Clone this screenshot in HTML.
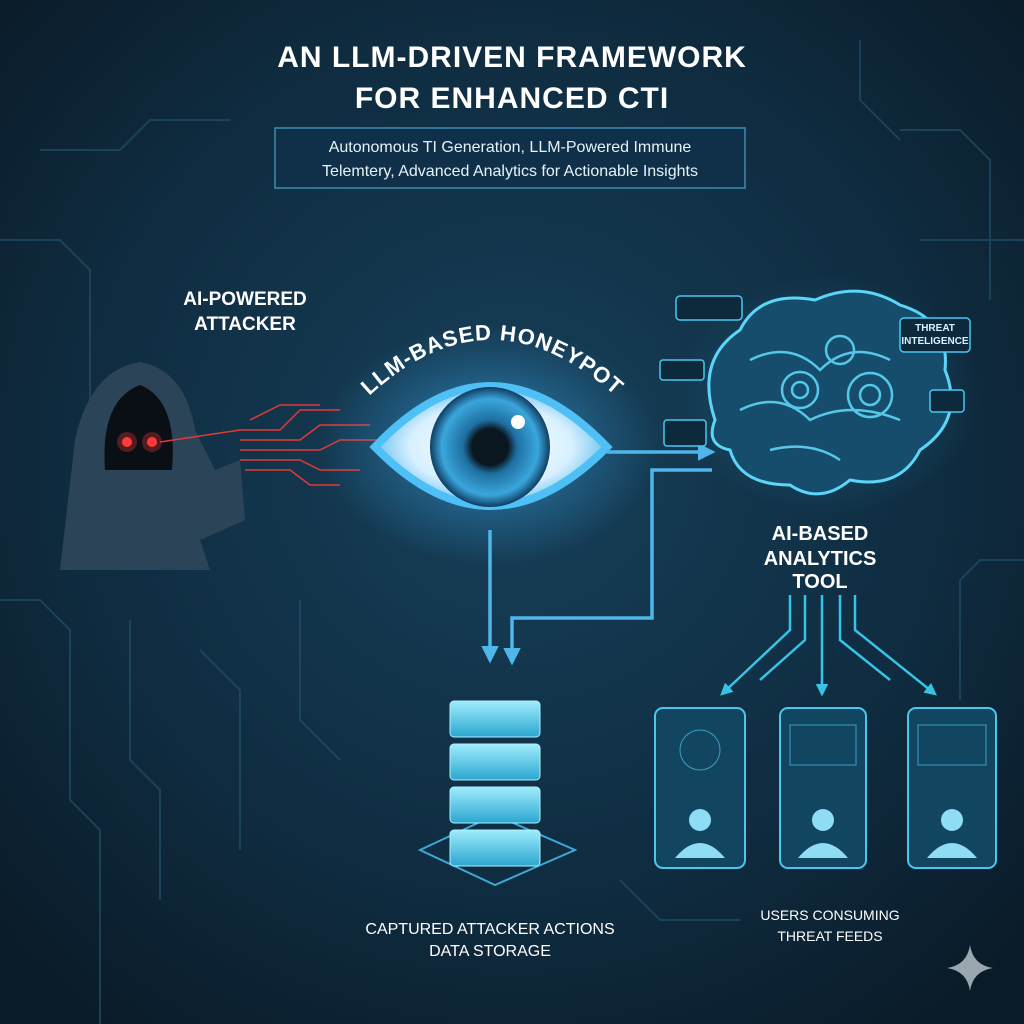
<!DOCTYPE html>
<html><head><meta charset="utf-8"><style>
html,body{margin:0;padding:0;width:1024px;height:1024px;overflow:hidden;background:#0c2030}
svg{display:block}
text{font-family:"Liberation Sans",sans-serif}
</style></head><body>
<svg width="1024" height="1024" viewBox="0 0 1024 1024" xmlns="http://www.w3.org/2000/svg">
<defs>
<radialGradient id="bg" cx="50%" cy="45%" r="70%"><stop offset="0" stop-color="#17405a"/><stop offset="0.6" stop-color="#0f2c40"/><stop offset="1" stop-color="#0a1a27"/></radialGradient>
<radialGradient id="iris" cx="50%" cy="50%" r="50%"><stop offset="0" stop-color="#0a1620"/><stop offset="0.3" stop-color="#0a1620"/><stop offset="0.45" stop-color="#1e6fa0"/><stop offset="0.8" stop-color="#3aa6dc"/><stop offset="1" stop-color="#0f3d62"/></radialGradient>
<radialGradient id="sclera" cx="50%" cy="50%" r="50%"><stop offset="0" stop-color="#ffffff"/><stop offset="0.7" stop-color="#d8f0ff"/><stop offset="1" stop-color="#6ec4f0"/></radialGradient>
<radialGradient id="glow" cx="50%" cy="50%" r="50%"><stop offset="0" stop-color="#3fb6ff" stop-opacity="0.55"/><stop offset="1" stop-color="#3fb6ff" stop-opacity="0"/></radialGradient>
<radialGradient id="bglow" cx="50%" cy="50%" r="50%"><stop offset="0" stop-color="#2aa8d8" stop-opacity="0.35"/><stop offset="1" stop-color="#2aa8d8" stop-opacity="0"/></radialGradient>
<linearGradient id="db" x1="0" y1="0" x2="0" y2="1"><stop offset="0" stop-color="#a0ecfc"/><stop offset="1" stop-color="#2aa6d0"/></linearGradient>
<marker id="ar" viewBox="0 0 10 10" refX="8" refY="5" markerWidth="5" markerHeight="5" orient="auto"><path d="M0,0L10,5L0,10z" fill="#4fb6ea"/></marker>
<marker id="ar2" viewBox="0 0 10 10" refX="8" refY="5" markerWidth="5" markerHeight="5" orient="auto"><path d="M0,0L10,5L0,10z" fill="#36c3e6"/></marker>
</defs>
<rect width="1024" height="1024" fill="url(#bg)"/>
<g stroke="#1f4a62" stroke-width="2" fill="none" opacity="0.8">
<path d="M0,240 H60 L90,270 V420"/><path d="M0,600 H40 L70,630 V800 L100,830 V1024"/><path d="M130,620 V760 L160,790 V900"/>
<path d="M40,150 H120 L150,120 H230"/><path d="M900,130 H960 L990,160 V300"/><path d="M860,40 V100 L900,140"/>
<path d="M1024,560 H980 L960,580 V700"/><path d="M200,650 L240,690 V850"/><path d="M300,600 V720 L340,760"/>
<path d="M620,880 L660,920 H740"/><path d="M920,240 H1024"/>
</g>
<text x="512" y="67" text-anchor="middle" fill="#fff" font-size="30" font-weight="bold" letter-spacing="1">AN LLM-DRIVEN FRAMEWORK</text>
<text x="512" y="108" text-anchor="middle" fill="#fff" font-size="30" font-weight="bold" letter-spacing="1">FOR ENHANCED CTI</text>
<rect x="275" y="128" width="470" height="60" fill="#10304a" stroke="#3e8bb0" stroke-width="1.5"/>
<text x="510" y="152" text-anchor="middle" fill="#e6f2f8" font-size="16">Autonomous TI Generation, LLM-Powered Immune</text>
<text x="510" y="176" text-anchor="middle" fill="#e6f2f8" font-size="16">Telemtery, Advanced Analytics for Actionable Insights</text>
<text x="245" y="305" text-anchor="middle" fill="#fff" font-size="19" font-weight="bold">AI-POWERED</text>
<text x="245" y="330" text-anchor="middle" fill="#fff" font-size="19" font-weight="bold">ATTACKER</text>
<path d="M60,570 L75,440 Q90,370 140,362 Q185,370 195,430 L215,470 L240,460 L245,520 L200,540 L210,570 Z" fill="#2c4458"/>
<path d="M105,470 Q100,400 140,385 Q178,400 172,470 Z" fill="#0a0f16"/>
<circle cx="127" cy="442" r="5" fill="#ff3a3a"/><circle cx="152" cy="442" r="5" fill="#ff3a3a"/>
<circle cx="127" cy="442" r="10" fill="#ff3a3a" opacity="0.3"/><circle cx="152" cy="442" r="10" fill="#ff3a3a" opacity="0.3"/>
<g stroke="#e03a3a" stroke-width="1.5" fill="none">
<path d="M160,442 L240,430 H280 L300,410 H340"/><path d="M240,440 H300 L320,425 H370"/><path d="M240,450 H320 L340,440 H380"/>
<path d="M240,460 H300 L320,470 H360"/><path d="M245,470 H290 L310,485 H340"/><path d="M250,420 L280,405 H320"/>
</g>
<ellipse cx="490" cy="445" rx="170" ry="120" fill="url(#glow)"/>
<path d="M375,447 Q490,325 607,447 Q490,565 375,447 Z" fill="url(#sclera)" stroke="#4fc0f5" stroke-width="8"/>
<circle cx="490" cy="447" r="60" fill="url(#iris)"/>
<circle cx="518" cy="422" r="7" fill="#fff"/>
<path id="arc" d="M365,400 Q490,280 620,400" fill="none"/>
<text fill="#fff" font-size="22" font-weight="bold" letter-spacing="1"><textPath href="#arc" startOffset="50%" text-anchor="middle">LLM-BASED HONEYPOT</textPath></text>
<g stroke="#4fb6ea" stroke-width="3.5" fill="none">
<path d="M607,452 H712" marker-end="url(#ar)"/>
<path d="M490,530 V660" marker-end="url(#ar)"/>
<path d="M712,470 H652 V618 H512 V662" marker-end="url(#ar)"/>
</g>
<ellipse cx="830" cy="395" rx="150" ry="120" fill="url(#bglow)"/>
<path d="M715,420 Q695,360 740,330 Q760,290 815,300 Q860,280 900,305 Q950,320 945,370 Q965,420 920,450 Q900,490 850,480 Q820,505 790,485 Q740,485 730,450 Q705,445 715,420 Z" fill="#164d6c" stroke="#5cd6f8" stroke-width="3"/>
<g stroke="#5cd6f8" stroke-width="2.5" fill="none" opacity="0.9">
<path d="M750,360 Q790,340 820,370 Q850,340 890,360"/><path d="M740,410 Q780,390 810,420 Q850,400 900,420"/><path d="M770,450 Q810,440 840,460"/>
<circle cx="800" cy="390" r="18"/><circle cx="870" cy="395" r="22"/><circle cx="840" cy="350" r="14"/>
<circle cx="870" cy="395" r="10"/><circle cx="800" cy="390" r="8"/>
</g>
<g fill="#0d2a3d" stroke="#46c8f2" stroke-width="1.5">
<rect x="676" y="296" width="66" height="24" rx="4"/><rect x="660" y="360" width="44" height="20" rx="3"/>
<rect x="664" y="420" width="42" height="26" rx="3"/><rect x="900" y="318" width="70" height="34" rx="4"/>
<rect x="930" y="390" width="34" height="22" rx="3"/>
</g>
<text x="935" y="331" text-anchor="middle" fill="#d7f2ff" font-size="10" font-weight="bold">THREAT</text>
<text x="935" y="344" text-anchor="middle" fill="#d7f2ff" font-size="10" font-weight="bold">INTELIGENCE</text>
<text x="820" y="540" text-anchor="middle" fill="#fff" font-size="20" font-weight="bold">AI-BASED</text>
<text x="820" y="565" text-anchor="middle" fill="#fff" font-size="20" font-weight="bold">ANALYTICS</text>
<text x="820" y="588" text-anchor="middle" fill="#fff" font-size="20" font-weight="bold">TOOL</text>
<g stroke="#36c3e6" stroke-width="2.5" fill="none">
<path d="M790,595 V630 L722,694" marker-end="url(#ar2)"/><path d="M805,595 V640 L760,680"/>
<path d="M822,595 V694" marker-end="url(#ar2)"/>
<path d="M840,595 V640 L890,680"/><path d="M855,595 V630 L935,694" marker-end="url(#ar2)"/>
</g>
<g fill="#124560" stroke="#4cc6ee" stroke-width="2">
<rect x="655" y="708" width="90" height="160" rx="8"/><rect x="780" y="708" width="86" height="160" rx="8"/><rect x="908" y="708" width="88" height="160" rx="8"/>
</g>
<g fill="#8fdcf5">
<circle cx="700" cy="820" r="11"/><path d="M675,858 Q700,828 725,858 Z"/>
<circle cx="823" cy="820" r="11"/><path d="M798,858 Q823,828 848,858 Z"/>
<circle cx="952" cy="820" r="11"/><path d="M927,858 Q952,828 977,858 Z"/>
</g>
<g fill="none" stroke="#4cc6ee" stroke-width="1" opacity="0.7">
<circle cx="700" cy="750" r="20"/><rect x="790" y="725" width="66" height="40"/><rect x="918" y="725" width="68" height="40"/>
</g>
<path d="M420,850 L495,815 L575,850 L495,885 Z" fill="none" stroke="#3fa8d6" stroke-width="2"/>
<g stroke="#aef0ff" stroke-width="1">
<rect x="450" y="830" width="90" height="36" rx="4" fill="url(#db)"/>
<rect x="450" y="787" width="90" height="36" rx="4" fill="url(#db)"/>
<rect x="450" y="744" width="90" height="36" rx="4" fill="url(#db)"/>
<rect x="450" y="701" width="90" height="36" rx="4" fill="url(#db)"/>
</g>
<text x="490" y="934" text-anchor="middle" fill="#fff" font-size="16">CAPTURED ATTACKER ACTIONS</text>
<text x="490" y="956" text-anchor="middle" fill="#fff" font-size="16">DATA STORAGE</text>
<text x="830" y="920" text-anchor="middle" fill="#fff" font-size="14">USERS CONSUMING</text>
<text x="830" y="941" text-anchor="middle" fill="#fff" font-size="14">THREAT FEEDS</text>
<path d="M970,945 Q973,965 993,968 Q973,971 970,991 Q967,971 947,968 Q967,965 970,945 Z" fill="#9aa6b0"/>
</svg>
</body></html>
